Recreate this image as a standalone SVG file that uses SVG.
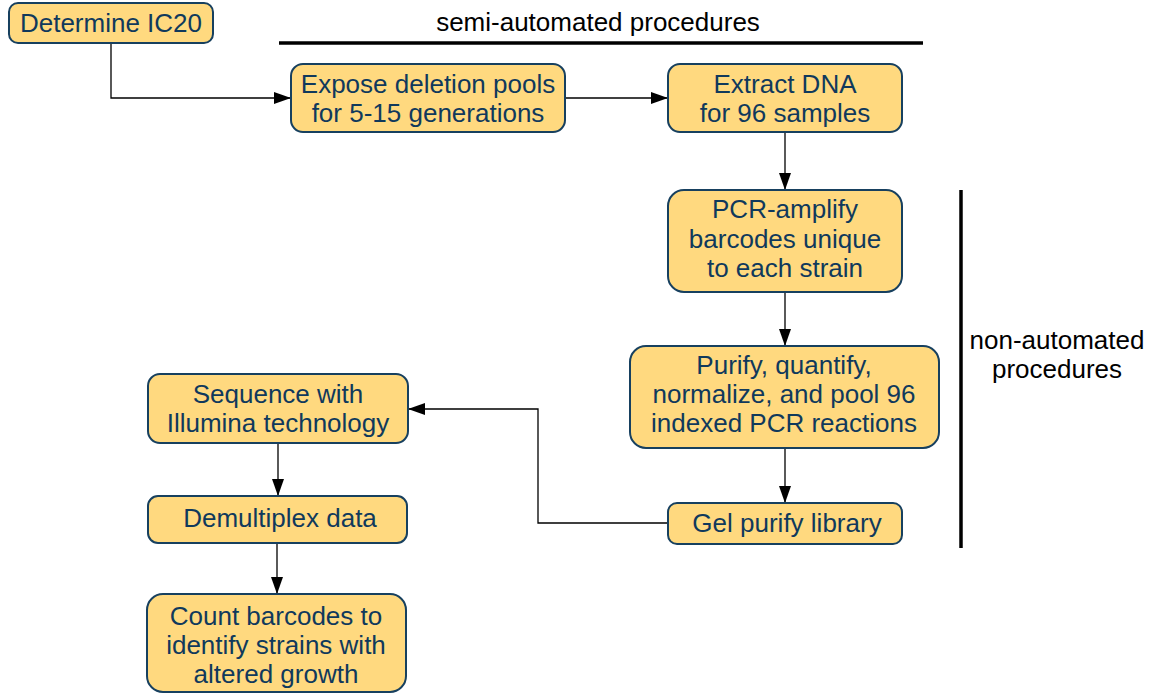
<svg xmlns="http://www.w3.org/2000/svg" width="1151" height="694" viewBox="0 0 1151 694">
<style>
.box{fill:#FFD97F;stroke:#17405F;stroke-width:2}
.t{font-family:"Liberation Sans",Arial,sans-serif;font-size:26px;fill:#10395C;text-anchor:middle}
.lab{font-family:"Liberation Sans",Arial,sans-serif;font-size:26px;fill:#000;text-anchor:middle}
.c{fill:none;stroke:#000;stroke-width:1.3;marker-end:url(#ah)}
</style>
<defs>
<marker id="ah" markerWidth="17" markerHeight="12" refX="17" refY="6" orient="auto" markerUnits="userSpaceOnUse">
<path d="M0,0 L17,6 L0,12 Z" fill="#000"/>
</marker>
</defs>
<rect width="1151" height="694" fill="#fff"/>
<g id="connectors">
<path class="c" d="M111,43 V98 H291"/>
<path class="c" d="M565,98 H668"/>
<path class="c" d="M785,132 V190"/>
<path class="c" d="M785,292 V346"/>
<path class="c" d="M785,448 V503"/>
<path class="c" d="M668,523 H538 V409 H408"/>
<path class="c" d="M278,443 V496"/>
<path class="c" d="M277,543 V594"/>
</g>
<g id="semi-automated">
<line x1="279" y1="43" x2="923" y2="43" stroke="#000" stroke-width="3.5"/>
<text class="lab" x="598" y="31">semi-automated procedures</text>
</g>
<g id="non-automated">
<line x1="961" y1="190" x2="961" y2="548" stroke="#000" stroke-width="3.5"/>
<text class="lab" x="1057" y="349">non-automated</text>
<text class="lab" x="1057" y="378">procedures</text>
</g>
<g id="n-determine">
<rect class="box" x="9" y="3" width="204" height="40" rx="9"/>
<text class="t" x="111" y="32">Determine IC20</text>
</g>
<g id="n-expose">
<rect class="box" x="291" y="64" width="274" height="68" rx="12"/>
<text class="t" x="428" y="93">Expose deletion pools</text>
<text class="t" x="428" y="122">for 5-15 generations</text>
</g>
<g id="n-extract">
<rect class="box" x="668" y="64" width="234" height="68" rx="12"/>
<text class="t" x="785" y="93">Extract DNA</text>
<text class="t" x="785" y="122">for 96 samples</text>
</g>
<g id="n-pcr">
<rect class="box" x="668" y="190" width="234" height="102" rx="16"/>
<text class="t" x="785" y="218">PCR-amplify</text>
<text class="t" x="785" y="248">barcodes unique</text>
<text class="t" x="785" y="277">to each strain</text>
</g>
<g id="n-purify">
<rect class="box" x="630" y="346" width="309" height="102" rx="16"/>
<text class="t" x="784" y="374">Purify, quantify,</text>
<text class="t" x="784" y="403">normalize, and pool 96</text>
<text class="t" x="784" y="432">indexed PCR reactions</text>
</g>
<g id="n-gel">
<rect class="box" x="668" y="503" width="234" height="41" rx="9"/>
<text class="t" x="787" y="532">Gel purify library</text>
</g>
<g id="n-sequence">
<rect class="box" x="148" y="374" width="260" height="69" rx="12"/>
<text class="t" x="278" y="403">Sequence with</text>
<text class="t" x="278" y="432">Illumina technology</text>
</g>
<g id="n-demultiplex">
<rect class="box" x="148" y="496" width="259" height="47" rx="10"/>
<text class="t" x="280" y="527">Demultiplex data</text>
</g>
<g id="n-count">
<rect class="box" x="147" y="594" width="259" height="98" rx="16"/>
<text class="t" x="276" y="625">Count barcodes to</text>
<text class="t" x="276" y="654">identify strains with</text>
<text class="t" x="276" y="683">altered growth</text>
</g>
</svg>
